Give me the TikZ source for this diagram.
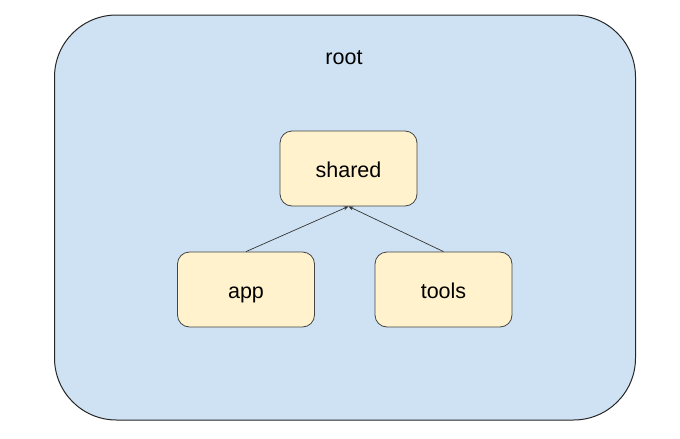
\documentclass[tikz,border=0pt]{standalone}
\usepackage{fontspec}
\setmainfont{Liberation Sans}
\usetikzlibrary{arrows.meta}
\definecolor{bluefill}{HTML}{CFE2F3}
\definecolor{yelfill}{HTML}{FFF2CC}
\definecolor{edge}{HTML}{444444}
\begin{document}
\begin{tikzpicture}[x=1pt,y=-1pt,
  pkg/.style={draw=edge, line width=0.8pt, fill=yelfill, rounded corners=12pt, minimum width=137pt, minimum height=75pt, inner sep=0pt, text height=19pt, text depth=2pt, font=\fontsize{21.5}{25}\selectfont},
  dep/.style={draw=black!80, line width=0.7pt, -{Stealth[length=5pt,width=4pt]}}]
\useasboundingbox (0,0) rectangle (680,439);
\node[draw=black!85, line width=1pt, fill=bluefill, rounded corners=62pt, minimum width=581pt, minimum height=405pt, inner sep=0pt] (root) at (345,217.5) {};
\node[font=\fontsize{21.5}{25}\selectfont, anchor=base, inner sep=0pt] (rootlbl) at (344,64) {root};
\node[pkg] (shared) at (348.5,168.5) {shared};
\node[pkg] (app) at (246,289.5) {app};
\node[pkg] (tools) at (443.5,289.5) {tools};
\draw[dep] (app.north) -- (shared.south);
\draw[dep] (tools.north) -- (shared.south);
\end{tikzpicture}
\end{document}
